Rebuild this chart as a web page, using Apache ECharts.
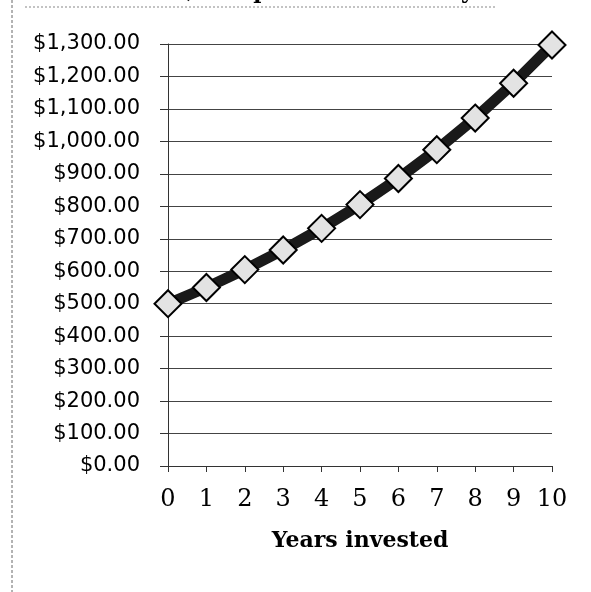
<!DOCTYPE html>
<html>
<head>
<meta charset="utf-8">
<script src="https://cdn.jsdelivr.net/npm/echarts@6/dist/echarts.min.js"></script>
<style>
html,body{margin:0;padding:0;background:#fff;}
#c{width:591px;height:592px;}
</style>
</head>
<body>
<div id="c"></div>
<script>
var years = [0,1,2,3,4,5,6,7,8,9,10];
var balance = [500, 550, 605, 665.5, 732.05, 805.26, 885.78, 974.36, 1071.79, 1178.97, 1296.87];
var titleText = 'interest, compounded annually';
var xAxisTitle = 'Years invested';

var chart = echarts.init(document.getElementById('c'), null, {renderer:'canvas'});
function money(v){
  var s = v.toFixed(2);
  var parts = s.split('.');
  parts[0] = parts[0].replace(/\B(?=(\d{3})+(?!\d))/g, ',');
  return '$' + parts.join('.');
}
chart.setOption({
  backgroundColor:'#fff',
  animation:false,
  grid:{left:168, right:39, top:44, bottom:126},
  graphic:[
    {type:'text', left:90, top:-19, style:{text:titleText, fontFamily:'DejaVu Serif', fontWeight:'bold', fontSize:22, fill:'#000'}},
    {type:'line', shape:{x1:25,y1:7,x2:495,y2:7}, style:{stroke:'#888', lineWidth:1, lineDash:[2,2]}},
    {type:'line', shape:{x1:12,y1:0,x2:12,y2:592}, style:{stroke:'#666', lineWidth:1, lineDash:[3,2]}}
  ],
  xAxis:{
    type:'value', min:0, max:10, interval:1,
    name:xAxisTitle, nameLocation:'middle', nameGap:64,
    nameTextStyle:{fontFamily:'DejaVu Serif', fontWeight:'bold', fontSize:22, color:'#000'},
    axisLine:{show:true, lineStyle:{color:'#333', width:1}},
    axisTick:{show:true, length:6, lineStyle:{color:'#333'}},
    splitLine:{show:false},
    axisLabel:{margin:22, fontFamily:'DejaVu Serif', fontSize:24, color:'#000'}
  },
  yAxis:{
    type:'value', min:0, max:1300, interval:100,
    axisLine:{show:true, lineStyle:{color:'#333', width:1}},
    axisTick:{show:true, length:8, lineStyle:{color:'#333'}},
    splitLine:{show:true, lineStyle:{color:'#444', width:1}},
    axisLabel:{margin:28, fontFamily:'DejaVu Sans', fontSize:21, color:'#000', formatter:money}
  },
  series:[{
    type:'line',
    data: years.map(function(x,i){return [x, balance[i]];}),
    lineStyle:{color:'#1a1a1a', width:11},
    symbol:'diamond', symbolSize:[27,27],
    itemStyle:{color:'#e3e3e3', borderColor:'#000', borderWidth:2},
    z:5
  }]
});
</script>
</body>
</html>
